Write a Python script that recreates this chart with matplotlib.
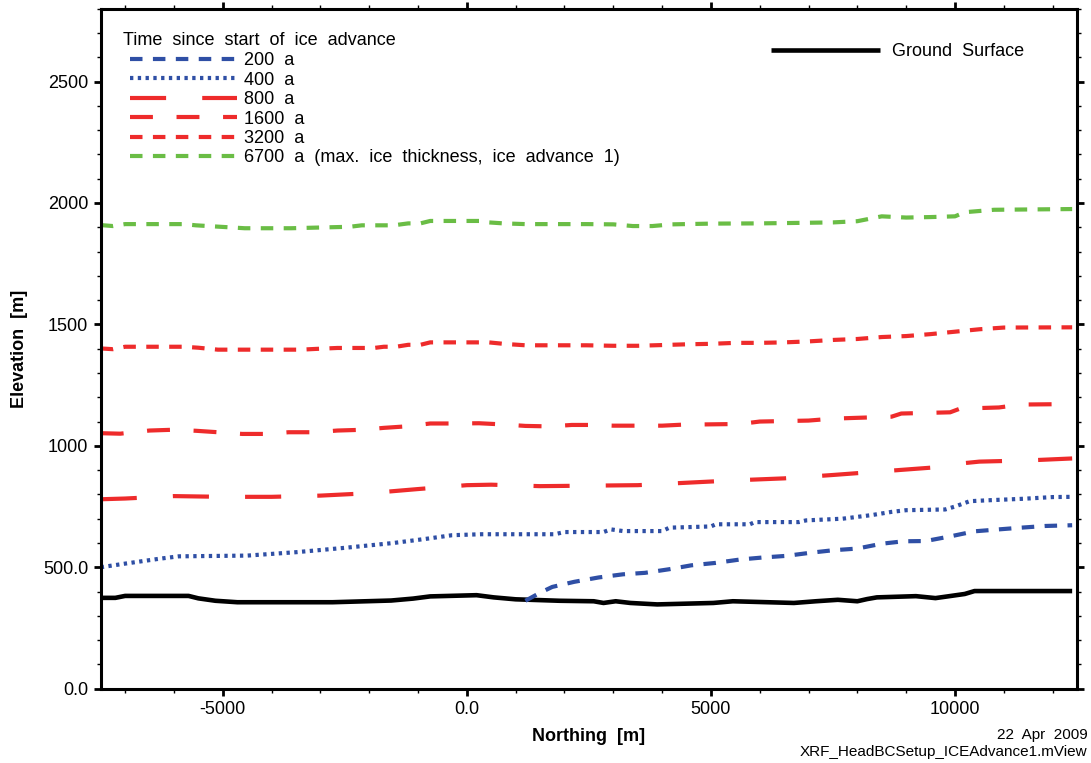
import matplotlib
matplotlib.use('Agg')
import matplotlib.pyplot as plt
from matplotlib.ticker import MultipleLocator

# fonts, dash lengths in points (not scaled by line width)
plt.rcParams['font.family'] = ['Liberation Sans', 'DejaVu Sans']
plt.rcParams['lines.scale_dashes'] = False

# ground surface
ground_x = [-7500, -7200, -7000, -5700, -5500, -5150, -4700, -2750, -1550, -1100, -750, 200, 550, 1000, 1900,
            2600, 2800, 3050, 3350, 3900, 5050, 5450, 6700, 7150, 7600, 8000, 8200, 8400, 9200, 9600, 9850,
            10200, 10400, 12400]
ground_y = [374, 374, 382, 382, 372, 362, 356, 356, 363, 371, 380, 385, 376, 368, 362,
            360, 353, 360, 353, 347, 353, 360, 353, 360, 366, 360, 369, 376, 381, 373, 380,
            390, 402, 402]

# ice surface, 200 a
adv200_x = [1200, 1500, 1750, 2200, 2700, 3200, 3650, 4150, 4600, 5100, 5600, 6050, 6550, 7050, 7500,
            8000, 8500, 8950, 9400, 9900, 10400, 10900, 11350, 11850, 12400]
adv200_y = [362, 395, 419, 440, 458, 471, 477, 492, 508, 518, 532, 540, 547, 560, 570,
            577, 597, 607, 608, 627, 648, 656, 663, 670, 673]

# 400 a
adv400_x = [-7500, -7000, -6300, -5900, -4500, -3500, -2500, -1500, -800, -300, 300, 1800, 2000, 2800, 2950,
            3200, 4000, 4150, 4650, 5000, 5100, 5800, 5900, 6800, 6950, 7700, 8300, 8700, 9000, 9800,
            10000, 10300, 10700, 11400, 12000, 12400]
adv400_y = [500, 515, 535, 545, 548, 562, 580, 600, 618, 632, 636, 636, 645, 645, 656,
            649, 649, 663, 666, 668, 677, 677, 686, 686, 693, 700, 715, 728, 735, 738,
            750, 772, 776, 782, 789, 790]

# 800 a
adv800_x = [-7500, -7000, -6000, -5000, -4000, -3000, -2000, -1000, 0, 500, 1500, 2500, 3500, 4500, 5500,
            6500, 7500, 8500, 9500, 10000, 10500, 11500, 12400]
adv800_y = [780, 783, 793, 790, 790, 795, 805, 822, 838, 840, 834, 836, 838, 848, 858,
            866, 880, 895, 910, 925, 935, 940, 948]

# 1600 a
adv1600_x = [-7500, -7100, -6500, -6050, -5550, -5100, -4600, -4100, -3650, -3100, -2650, -2150, -1700,
             -1250, -750, -250, 250, 750, 1200, 1700, 2150, 2550, 3000, 4000, 4400, 5600, 6000, 7000,
             7500, 8700, 8900, 9900, 10100, 10900, 11350, 12400]
adv1600_y = [1052, 1050, 1063, 1066, 1062, 1056, 1049, 1049, 1056, 1056, 1063, 1066, 1074,
             1080, 1092, 1092, 1093, 1088, 1082, 1080, 1086, 1086, 1083, 1083, 1087, 1090, 1100, 1104,
             1112, 1120, 1133, 1138, 1153, 1158, 1170, 1172]

# 3200 a
adv3200_x = [-7500, -7250, -7000, -5800, -5500, -5100, -3400, -3100, -2650, -1900, -1700, -1450, -1200,
             -950, -750, 450, 750, 1200, 2450, 3000, 3500, 4000, 4500, 5000, 5500, 6000, 6500, 7000,
             7500, 8000, 8500, 9000, 9500, 10000, 10500, 11000, 12400]
adv3200_y = [1401, 1398, 1408, 1408, 1404, 1396, 1396, 1399, 1403, 1403, 1408, 1408, 1416,
             1416, 1426, 1426, 1420, 1414, 1414, 1412, 1412, 1415, 1418, 1420, 1424, 1424, 1426, 1430,
             1436, 1440, 1448, 1452, 1460, 1470, 1480, 1487, 1488]

# 6700 a
adv6700_x = [-7500, -7250, -7000, -5800, -5550, -5300, -5050, -4550, -3600, -2400, -2150, -1500, -1200,
             -950, -750, 250, 450, 750, 1200, 2450, 3000, 3400, 3800, 4200, 5000, 6000, 6800, 7500,
             8000, 8500, 9000, 9500, 10000, 10200, 10800, 12400]
adv6700_y = [1909, 1905, 1913, 1913, 1908, 1905, 1902, 1896, 1896, 1902, 1908, 1908, 1916,
             1916, 1926, 1926, 1920, 1916, 1913, 1913, 1912, 1905, 1905, 1912, 1915, 1916, 1918, 1920,
             1925, 1945, 1940, 1942, 1945, 1962, 1972, 1975]

x_ticks = [-5000, 0, 5000, 10000]
x_tick_labels = ['-5000', '0.0', '5000', '10000']
y_ticks = [0, 500, 1000, 1500, 2000, 2500]
y_tick_labels = ['0.0', '500.0', '1000', '1500', '2000', '2500']

blue = '#2f4fa5'
red = '#ee2b2b'
green = '#6abd45'

fig = plt.figure(figsize=(10.91, 7.63), dpi=100)
ax = fig.add_axes([0.0923, 0.0974, 0.8949, 0.8912])

ax.plot(ground_x, ground_y, color='black', lw=3.3, label='Ground  Surface', solid_capstyle='butt')
l200, = ax.plot(adv200_x, adv200_y, color=blue, lw=3, ls=(0, (9, 7.5)), label='200  a')
l400, = ax.plot(adv400_x, adv400_y, color=blue, lw=3, ls=(0, (2.4, 3.2)), label='400  a')
l800, = ax.plot(adv800_x, adv800_y, color=red, lw=3, ls=(0, (26, 26)), label='800  a')
l1600, = ax.plot(adv1600_x, adv1600_y, color=red, lw=3, ls=(0, (16.5, 17)), label='1600  a')
l3200, = ax.plot(adv3200_x, adv3200_y, color=red, lw=3, ls=(0, (9, 7.5)), label='3200  a')
l6700, = ax.plot(adv6700_x, adv6700_y, color=green, lw=3, ls=(0, (9, 7.5)),
                 label='6700  a  (max.  ice  thickness,  ice  advance  1)')

ax.set_xlim(-7500, 12500)
ax.set_ylim(0, 2800)
ax.set_xticks(x_ticks)
ax.set_xticklabels(x_tick_labels)
ax.set_yticks(y_ticks)
ax.set_yticklabels(y_tick_labels)
ax.xaxis.set_minor_locator(MultipleLocator(1000))
ax.yaxis.set_minor_locator(MultipleLocator(100))
ax.tick_params(which='both', direction='out', top=True, right=True, labelsize=13, pad=4)
ax.tick_params(which='major', length=5, width=2)
ax.tick_params(which='minor', length=3, width=1)
for s in ax.spines.values():
    s.set_linewidth(2.2)

ax.set_xlabel('Northing  [m]', fontsize=13, fontweight='bold', labelpad=7)
ax.set_ylabel('Elevation  [m]', fontsize=13, fontweight='bold', labelpad=11)

# legend for the ice surfaces
ax.text(0.0228, 0.9525, 'Time  since  start  of  ice  advance', transform=ax.transAxes,
        fontsize=13, va='center', ha='left')
leg1 = ax.legend(handles=[l200, l400, l800, l1600, l3200, l6700], loc='upper left',
                 bbox_to_anchor=(0.030, 0.9360), frameon=False, fontsize=13, borderpad=0,
                 borderaxespad=0, handlelength=5.9, handletextpad=0.39, labelspacing=0.135)
ax.add_artist(leg1)
ground_handle = ax.get_lines()[0]
ax.legend(handles=[ground_handle], loc='upper left', bbox_to_anchor=(0.6866, 0.9491),
          frameon=False, fontsize=13, borderpad=0, borderaxespad=0,
          handlelength=6.05, handletextpad=0.67)

fig.text(0.997, 1 - 735 / 763, '22  Apr  2009', ha='right', va='center', fontsize=11)
fig.text(0.997, 1 - 752 / 763, 'XRF_HeadBCSetup_ICEAdvance1.mView', ha='right', va='center', fontsize=11)

fig.savefig('out.png', dpi=100)
